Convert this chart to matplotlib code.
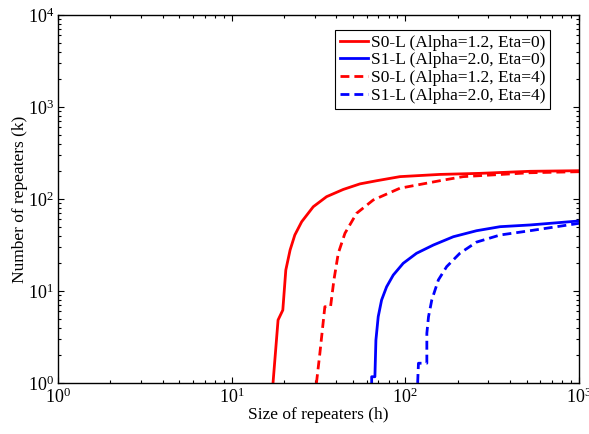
import matplotlib
matplotlib.use("Agg")
import matplotlib.pyplot as plt
from matplotlib.ticker import LogLocator, NullFormatter

plt.rcParams.update({
    "font.family": ["Liberation Serif", "DejaVu Serif"],
    "mathtext.fontset": "custom",
    "mathtext.rm": "Liberation Serif",
    "mathtext.it": "Liberation Serif:italic",
    "font.size": 12.5,
})

# curves (h, k)
s0_eta0_h = [16.8, 18.5, 19.7, 20.5, 21.7, 23.1, 25.3, 29.5, 35.2, 43.9, 54.8, 68.4,
             93.1, 158, 269, 522, 1000]
s0_eta0_k = [0.5, 4.84, 6.2, 16.9, 27.9, 40.6, 56.6, 82.4, 106, 127, 146, 158,
             175, 185, 190, 200, 203]

s1_eta0_h = [64.0, 64.0, 66.8, 67.7, 69.8, 73.0, 78.0, 85.2, 97.2, 116, 145, 189,
             257, 351, 522, 1000]
s1_eta0_k = [0.5, 1.17, 1.17, 2.93, 5.26, 7.98, 11.1, 14.9, 20.0, 25.7, 31.6, 38.9,
             45.2, 50, 52.2, 57.7]

s0_eta4_h = [29.5, 32.2, 34.4, 37.1, 38.8, 41.1, 44.9, 52.4, 65.3, 93.1, 158, 215,
             522, 1000]
s0_eta4_k = [0.5, 2.1, 6.75, 6.75, 13.2, 25.7, 42.4, 69.9, 97.5, 131, 158, 175,
             193, 198]

s1_eta4_h = [116, 119, 133, 133, 136, 142, 155, 173, 206, 257, 351, 522, 1000]
s1_eta4_k = [0.5, 1.64, 1.64, 3.47, 5.26, 7.98, 13.2, 18.4, 25.7, 34.0, 40.6, 45.2,
             54.4]

labels = ["S0-L (Alpha=1.2, Eta=0)", "S1-L (Alpha=2.0, Eta=0)",
          "S0-L (Alpha=1.2, Eta=4)", "S1-L (Alpha=2.0, Eta=4)"]

fig = plt.figure(figsize=(5.89, 4.34), dpi=100)
ax = fig.add_axes([58 / 589, 1 - 383 / 434, 521 / 589, 368 / 434])

dash = (0, (3.2, 1.8))
ax.plot(s0_eta0_h, s0_eta0_k, color="red", lw=2, label=labels[0])
ax.plot(s1_eta0_h, s1_eta0_k, color="blue", lw=2, label=labels[1])
ax.plot(s0_eta4_h, s0_eta4_k, color="red", lw=2, ls=dash, label=labels[2])
ax.plot(s1_eta4_h, s1_eta4_k, color="blue", lw=2, ls=dash, label=labels[3])

ax.set_xscale("log")
ax.set_yscale("log")
ax.set_xlim(1, 1000)
ax.set_ylim(1, 1e4)
ax.xaxis.set_major_locator(LogLocator(base=10, numticks=10))
ax.yaxis.set_major_locator(LogLocator(base=10, numticks=10))
ax.xaxis.set_minor_locator(LogLocator(base=10, subs=range(2, 10), numticks=10))
ax.yaxis.set_minor_locator(LogLocator(base=10, subs=range(2, 10), numticks=10))
ax.xaxis.set_minor_formatter(NullFormatter())
ax.yaxis.set_minor_formatter(NullFormatter())
ax.tick_params(which="both", direction="in", top=True, right=True, width=0.8)
ax.tick_params(which="major", length=4, labelsize=13, pad=3)
ax.tick_params(which="minor", length=2)
for s in ax.spines.values():
    s.set_linewidth(1)

ax.set_xlabel("Size of repeaters (h)", labelpad=0)
ax.set_ylabel("Number of repeaters (k)", labelpad=0)

leg = ax.legend(loc="upper right", bbox_to_anchor=(0.944, 0.959), fancybox=False,
                framealpha=1, edgecolor="black", handlelength=1.6, handletextpad=0.2,
                borderpad=0.25, labelspacing=0.1, borderaxespad=0, fontsize=12.5)
leg.get_frame().set_linewidth(0.8)

fig.savefig("out.png", dpi=100)
